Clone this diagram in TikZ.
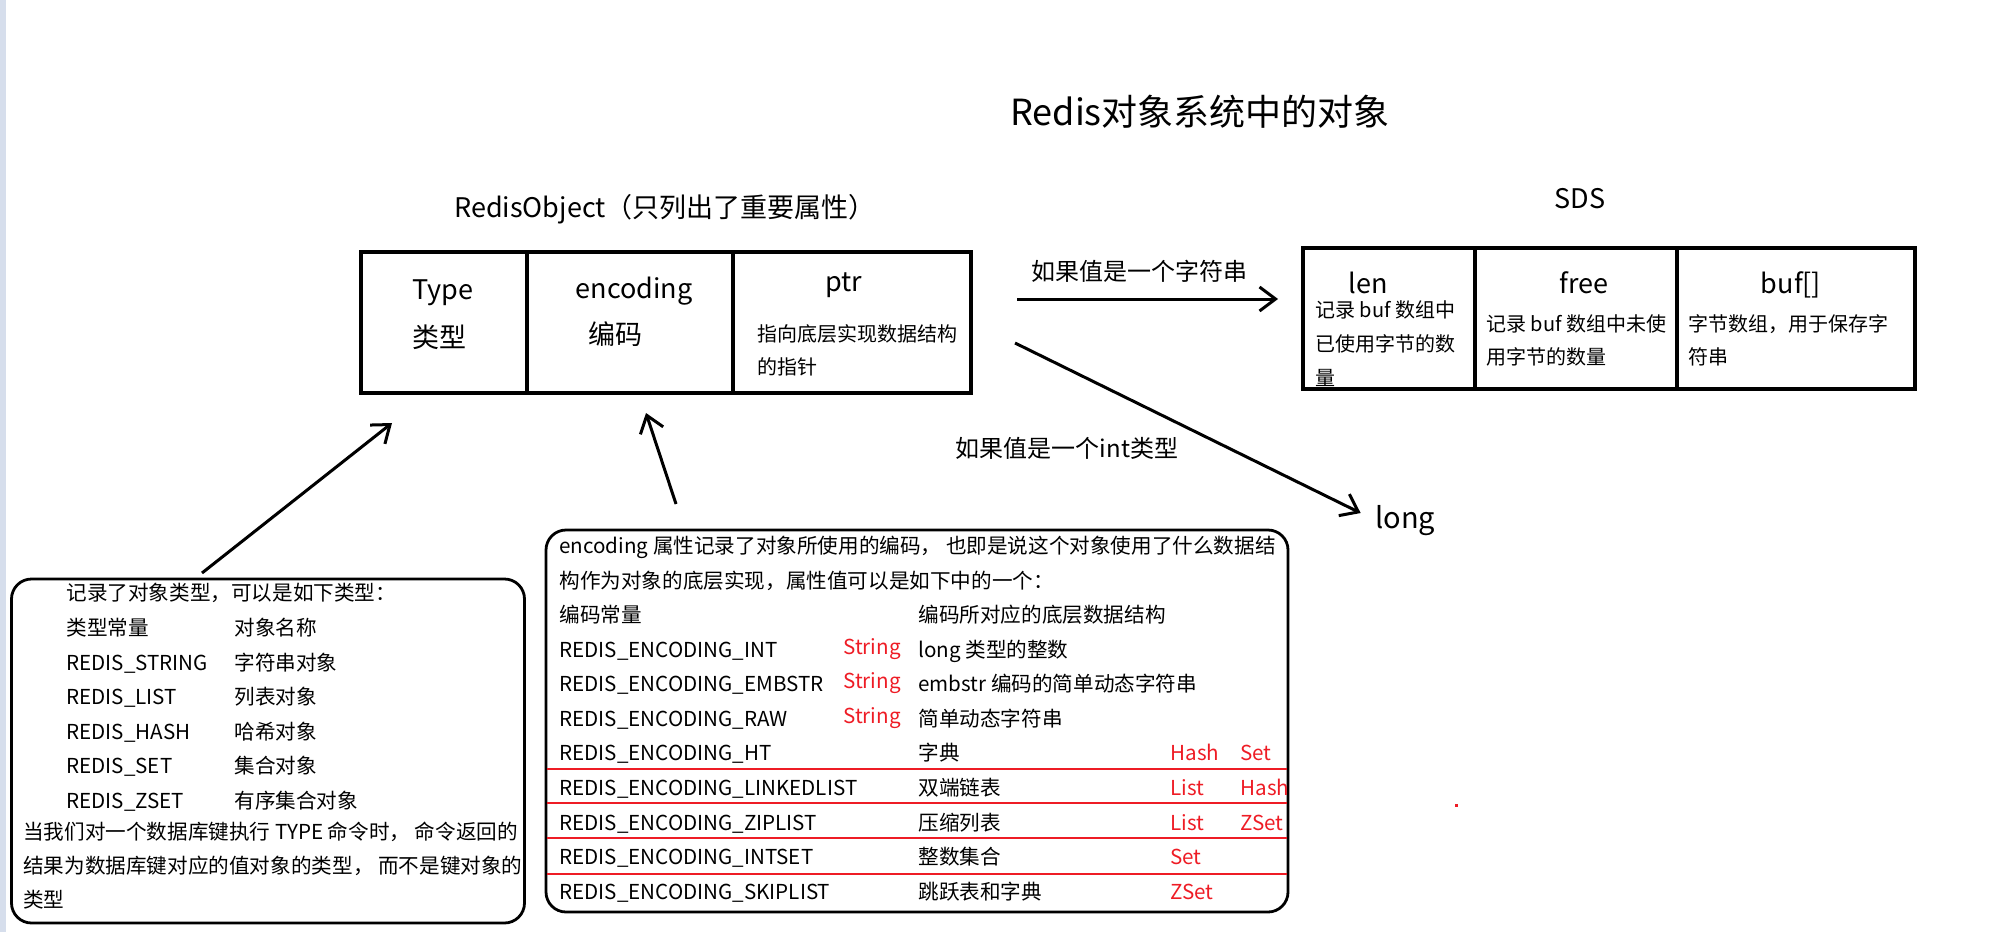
\documentclass[tikz,border=0pt]{standalone}
\usepackage{fontspec}
\setmainfont{Noto Sans CJK SC}
\usetikzlibrary{arrows.meta,positioning}
\definecolor{marca}{HTML}{EE1C25}
\definecolor{franja}{HTML}{D6DEEC}

\begin{document}
\begin{tikzpicture}[x=0.5pt,y=-0.5pt,>={Straight Barb[length=8pt,width=12pt]},
  cell/.style={draw,line width=1.6pt,outer sep=0pt,inner sep=0pt,minimum height=70.5pt},
  note/.style={draw,line width=1.4pt,rounded corners=10pt,inner sep=0pt},
  txt/.style={inner sep=0pt,anchor=base west,font=\fontsize{10.3}{12}\selectfont},
  sm/.style={txt,font=\fontsize{10}{12}\selectfont},
  rd/.style={txt,text=marca},
  hd/.style={inner sep=0pt,anchor=base,font=\fontsize{13.5}{16}\selectfont},
  lab/.style={inner sep=0pt,font=\fontsize{12}{14}\selectfont},
  arr/.style={->,line width=1.5pt}]
\useasboundingbox (0,0) rectangle (2000,932);
\fill[franja] (0,0) rectangle (6,932);
\node[hd,font=\fontsize{18}{20}\selectfont] (tit) at (1200,125) {Redis对象系统中的对象};

% RedisObject
\node[hd] (rot) at (665,217) {RedisObject（只列出了重要属性）};
\node[cell,minimum width=83pt] (ty) at (444,322.5) {};
\node[cell,minimum width=103pt,right=0pt of ty] (en) {};
\node[cell,minimum width=119pt,right=0pt of en] (pt) {};
\node[hd,anchor=base west] (tyn) at (412,299) {Type};
\node[hd,anchor=base west] (tyc) at (412,347) {类型};
\node[hd] (enn) at (634,298) {encoding};
\node[hd,anchor=base west] (enc) at (588,344) {编码};
\node[hd] (ptn) at (844,291) {ptr};
\node[sm] (pt1) at (757,341) {指向底层实现数据结构};
\node[sm] (pt2) at (757,374) {的指针};

% SDS
\node[hd] (sdt) at (1580,208) {SDS};
\node[cell,minimum width=86pt] (ln) at (1389,318.5) {};
\node[cell,minimum width=101pt,right=0pt of ln] (fr) {};
\node[cell,minimum width=119pt,right=0pt of fr] (bf) {};
\node[hd] (lnn) at (1368,293) {len};
\node[sm] (ln1) at (1315,317) {记录 buf 数组中};
\node[sm] (ln2) at (1315,351) {已使用字节的数};
\node[sm] (ln3) at (1315,385) {量};
\node[hd] (frn) at (1584,293) {free};
\node[sm] (fr1) at (1486,331) {记录 buf 数组中未使};
\node[sm] (fr2) at (1486,364) {用字节的数量};
\node[hd] (bfn) at (1791,293) {buf[]};
\node[sm] (bf1) at (1688,331) {字节数组，用于保存字};
\node[sm] (bf2) at (1688,364) {符串};

% value arrows
\coordinate (a1) at (1017,299);
\draw[arr,shorten >=12.5pt] (a1) -- (a1 -| ln.west);
\node[lab] (l1) at (1139,271) {如果值是一个字符串};
\node[hd,anchor=base west,font=\fontsize{14.5}{16}\selectfont] (lg) at (1375,528) {long};
\coordinate (a2) at (1015,343);
\draw[arr,shorten >=8pt] (a2) -- (lg.west);
\node[lab] (l2) at (1067,448) {如果值是一个int类型};

% type note
\node[note,minimum width=256.5pt,minimum height=172pt] (nt) at (268,751) {};
\coordinate (a3) at (202,573); \coordinate (b3) at (392,423);
\draw[arr] (a3) -- (b3);
\node[txt] (n0) at (66,600) {记录了对象类型，可以是如下类型：};
\node[txt] (n1) at (66,635) {类型常量}; \node[txt] (m1) at (234,635) {对象名称};
\node[txt] (n2) at (66,670) {REDIS\_STRING}; \node[txt] (m2) at (234,670) {字符串对象};
\node[txt] (n3) at (66,704) {REDIS\_LIST}; \node[txt] (m3) at (234,704) {列表对象};
\node[txt] (n4) at (66,739) {REDIS\_HASH}; \node[txt] (m4) at (234,739) {哈希对象};
\node[txt] (n5) at (66,773) {REDIS\_SET}; \node[txt] (m5) at (234,773) {集合对象};
\node[txt] (n6) at (66,808) {REDIS\_ZSET}; \node[txt] (m6) at (234,808) {有序集合对象};
\node[txt] (p1) at (23,839) {当我们对一个数据库键执行 TYPE 命令时， 命令返回的};
\node[txt] (p2) at (23,873) {结果为数据库键对应的值对象的类型， 而不是键对象的};
\node[txt] (p3) at (23,907) {类型};

% encoding note
\node[note,minimum width=371pt,minimum height=191pt] (ne) at (917,721) {};
\coordinate (a4) at (676,504); \coordinate (b4) at (646,413);
\draw[arr] (a4) -- (b4);
\node[txt] (e0) at (559,553) {encoding 属性记录了对象所使用的编码， 也即是说这个对象使用了什么数据结};
\node[txt] (e1) at (559,588) {构作为对象的底层实现，属性值可以是如下中的一个：};
\node[txt] (k0) at (559,622) {编码常量}; \node[txt] (d0) at (918,622) {编码所对应的底层数据结构};
\node[txt] (k1) at (559,657) {REDIS\_ENCODING\_INT}; \node[rd] (s1) at (843,654) {String};
\node[txt] (d1) at (918,657) {long 类型的整数};
\node[txt] (k2) at (559,691) {REDIS\_ENCODING\_EMBSTR}; \node[rd] (s2) at (843,688) {String};
\node[txt] (d2) at (918,691) {embstr 编码的简单动态字符串};
\node[txt] (k3) at (559,726) {REDIS\_ENCODING\_RAW}; \node[rd] (s3) at (843,723) {String};
\node[txt] (d3) at (918,726) {简单动态字符串};
\node[txt] (k4) at (559,760) {REDIS\_ENCODING\_HT}; \node[txt] (d4) at (918,760) {字典};
\node[rd] (u4) at (1170,760) {Hash}; \node[rd] (v4) at (1240,760) {Set};
\node[txt] (k5) at (559,795) {REDIS\_ENCODING\_LINKEDLIST}; \node[txt] (d5) at (918,795) {双端链表};
\node[rd] (u5) at (1170,795) {List}; \node[rd] (v5) at (1240,795) {Hash};
\node[txt] (k6) at (559,830) {REDIS\_ENCODING\_ZIPLIST}; \node[txt] (d6) at (918,830) {压缩列表};
\node[rd] (u6) at (1170,830) {List}; \node[rd] (v6) at (1240,830) {ZSet};
\node[txt] (k7) at (559,864) {REDIS\_ENCODING\_INTSET}; \node[txt] (d7) at (918,864) {整数集合};
\node[rd] (u7) at (1170,864) {Set};
\node[txt] (k8) at (559,899) {REDIS\_ENCODING\_SKIPLIST}; \node[txt] (d8) at (918,899) {跳跃表和字典};
\node[rd] (u8) at (1170,899) {ZSet};
\draw[marca,line width=0.9pt] (547,769) -- (1287,769) (547,803) -- (1287,803)
  (547,838) -- (1287,838) (547,874) -- (1287,874);
\fill[marca] (1455,804) rectangle (1458,807);
\end{tikzpicture}
\end{document}
